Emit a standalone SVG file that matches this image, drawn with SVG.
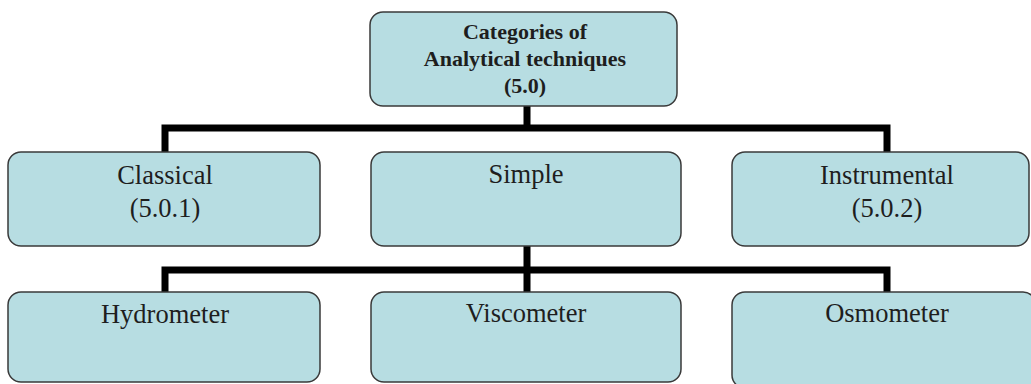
<svg xmlns="http://www.w3.org/2000/svg" width="1031" height="384" viewBox="0 0 1031 384">
  <style>
    .box { fill: #b7dde2; stroke: #3a3a3a; stroke-width: 1.5; }
    .wire { fill: none; stroke: #000; stroke-width: 7; stroke-linejoin: miter; }
    .lbl { font-family: "Liberation Serif", "Times New Roman", serif; font-size: 26.5px; fill: #1e1e1e; text-anchor: middle; }
    .head { font-family: "Liberation Serif", "Times New Roman", serif; font-size: 22px; font-weight: bold; fill: #1e1e1e; text-anchor: middle; }
  </style>
  <rect width="1031" height="384" fill="#fff"/>

  <!-- connectors -->
  <g id="connectors">
    <path class="wire" d="M527 106 V128 M165 152 V128 H887 V152"/>
    <path class="wire" d="M527 246 V292 M165 292 V270 H887 V292"/>
  </g>

  <g id="root">
    <rect class="box" x="370" y="12" width="307" height="94" rx="13"/>
    <text class="head" x="525" y="39">Categories of</text>
    <text class="head" x="525" y="66">Analytical techniques</text>
    <text class="head" x="525" y="93">(5.0)</text>
  </g>

  <g id="classical">
    <rect class="box" x="8" y="152" width="312" height="94" rx="13"/>
    <text class="lbl" x="165" y="184">Classical</text>
    <text class="lbl" x="165" y="217">(5.0.1)</text>
  </g>

  <g id="simple">
    <rect class="box" x="371" y="152" width="310" height="94" rx="13"/>
    <text class="lbl" x="526" y="183">Simple</text>
  </g>

  <g id="instrumental">
    <rect class="box" x="732" y="152" width="297" height="94" rx="13"/>
    <text class="lbl" x="887" y="184">Instrumental</text>
    <text class="lbl" x="887" y="217">(5.0.2)</text>
  </g>

  <g id="hydrometer">
    <rect class="box" x="8" y="292" width="312" height="90" rx="13"/>
    <text class="lbl" x="165" y="323">Hydrometer</text>
  </g>

  <g id="viscometer">
    <rect class="box" x="371" y="292" width="310" height="90" rx="13"/>
    <text class="lbl" x="526" y="322">Viscometer</text>
  </g>

  <g id="osmometer">
    <rect class="box" x="732" y="292" width="304" height="96" rx="13"/>
    <text class="lbl" x="887" y="322">Osmometer</text>
  </g>
</svg>
